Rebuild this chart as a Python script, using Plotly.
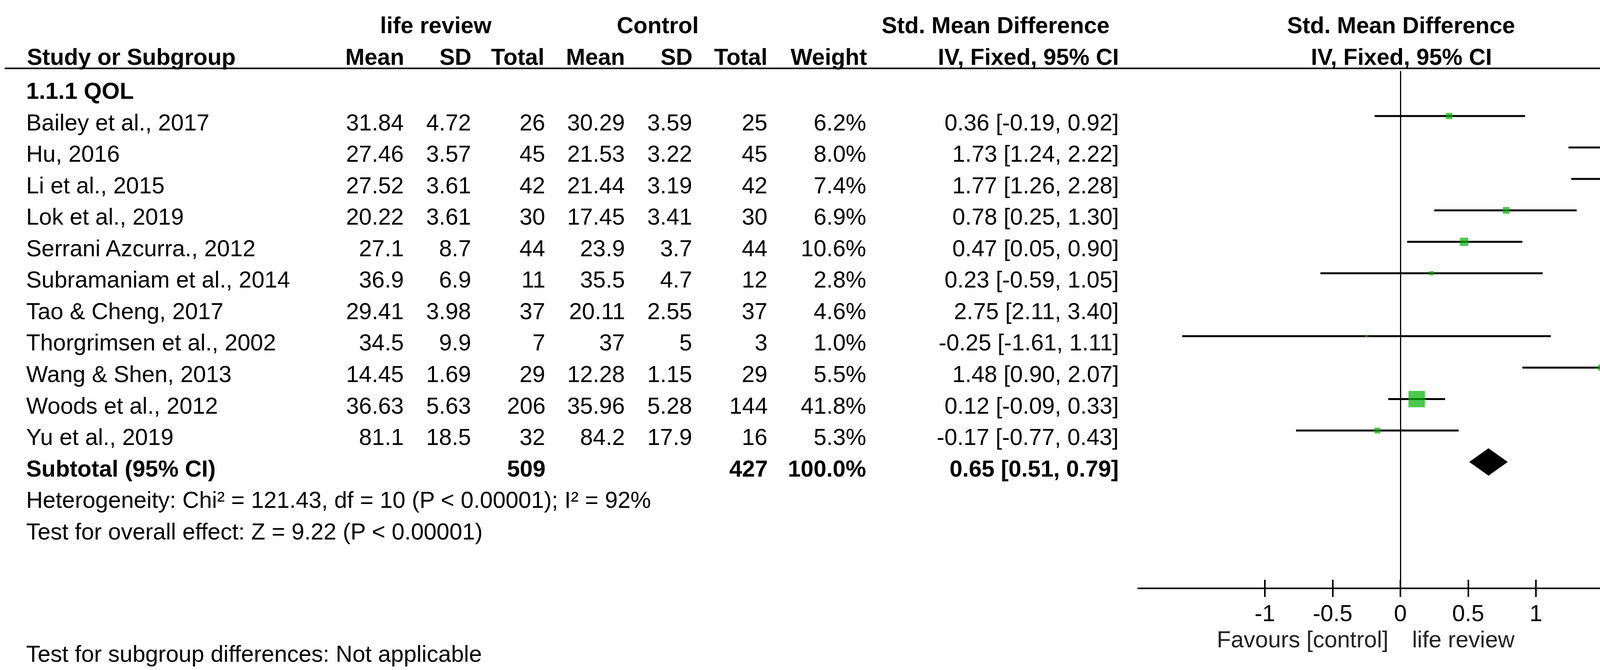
import plotly.graph_objects as go

W, H = 4319, 1715
FONT = "Liberation Sans, Arial, sans-serif"
FS = 59

# data
studies = ["Bailey et al., 2017", "Hu, 2016", "Li et al., 2015", "Lok et al., 2019",
           "Serrani Azcurra., 2012", "Subramaniam et al., 2014", "Tao & Cheng, 2017",
           "Thorgrimsen et al., 2002", "Wang & Shen, 2013", "Woods et al., 2012", "Yu et al., 2019"]
lr_mean = [31.84, 27.46, 27.52, 20.22, 27.1, 36.9, 29.41, 34.5, 14.45, 36.63, 81.1]
lr_sd = [4.72, 3.57, 3.61, 3.61, 8.7, 6.9, 3.98, 9.9, 1.69, 5.63, 18.5]
lr_total = [26, 45, 42, 30, 44, 11, 37, 7, 29, 206, 32]
c_mean = [30.29, 21.53, 21.44, 17.45, 23.9, 35.5, 20.11, 37, 12.28, 35.96, 84.2]
c_sd = [3.59, 3.22, 3.19, 3.41, 3.7, 4.7, 2.55, 5, 1.15, 5.28, 17.9]
c_total = [25, 45, 42, 30, 44, 12, 37, 3, 29, 144, 16]
weight = [6.2, 8.0, 7.4, 6.9, 10.6, 2.8, 4.6, 1.0, 5.5, 41.8, 5.3]
smd = [0.36, 1.73, 1.77, 0.78, 0.47, 0.23, 2.75, -0.25, 1.48, 0.12, -0.17]
ci_lo = [-0.19, 1.24, 1.26, 0.25, 0.05, -0.59, 2.11, -1.61, 0.90, -0.09, -0.77]
ci_hi = [0.92, 2.22, 2.28, 1.30, 0.90, 1.05, 3.40, 1.11, 2.07, 0.33, 0.43]

sub_lr_total, sub_c_total, sub_weight = 509, 427, 100.0
sub_smd, sub_lo, sub_hi = 0.65, 0.51, 0.79

subgroup_label = "1.1.1 QOL"
heterogeneity = "Heterogeneity: Chi² = 121.43, df = 10 (P < 0.00001); I² = 92%"
overall = "Test for overall effect: Z = 9.22 (P < 0.00001)"
subgroup_test = "Test for subgroup differences: Not applicable"
tick_vals = [-1, -0.5, 0, 0.5, 1]
tick_text = ["-1", "-0.5", "0", "0.5", "1"]

X_MAX = 1.94
PX_UNIT = 347
rows = list(range(1, len(studies) + 1))
sub_row = len(studies) + 1

fig = go.Figure()

# confidence intervals
lx, ly = [], []
for r, a, b in zip(rows, ci_lo, ci_hi):
    lx += [a, b, None]
    ly += [r, r, None]
fig.add_trace(go.Scatter(x=lx, y=ly, mode="lines", line=dict(color="black", width=5),
                         hoverinfo="skip"))

# study squares
fig.add_trace(go.Scatter(x=smd, y=rows, mode="markers",
                         marker=dict(symbol="square", color="#00B400",
                                     size=[6.5 * w ** 0.5 for w in weight], line_width=0),
                         hoverinfo="skip"))

# arrows for intervals running past the axis
ar = [r for r, b in zip(rows, ci_hi) if b > X_MAX]
fig.add_trace(go.Scatter(x=[X_MAX - 16 / PX_UNIT] * len(ar), y=ar, mode="markers",
                         marker=dict(symbol="triangle-right", color="black", size=32, line_width=0),
                         cliponaxis=False, hoverinfo="skip"))

# pooled diamond
fig.add_trace(go.Scatter(x=[sub_lo, sub_smd, sub_hi, sub_smd, sub_lo],
                         y=[sub_row, sub_row - 0.43, sub_row, sub_row + 0.43, sub_row],
                         mode="lines", fill="toself", fillcolor="black",
                         line=dict(color="black", width=1), hoverinfo="skip"))

# helper trace for the upper half of the crossing ticks
fig.add_trace(go.Scatter(x=[0], y=[sub_row], xaxis="x2", mode="markers",
                         marker=dict(opacity=0), hoverinfo="skip"))


def px(v):
    return v / W


def py(v):
    return 1 - v / H


ann = []


def txt(text, x, y, anchor="right", yref="y", bold=False, shift=-17):
    ann.append(dict(text="<b>%s</b>" % text if bold else text, x=px(x), xref="paper",
                    y=y, yref=yref, xanchor=anchor, yanchor="middle", yshift=shift,
                    showarrow=False, font=dict(family=FONT, size=FS, color="black")))


# headers
for t, x in [("life review", 1115), ("Control", 1684), ("Std. Mean Difference", 2549),
             ("Std. Mean Difference", 3587)]:
    txt(t, x, py(65), anchor="center", yref="paper", bold=True, shift=0)
txt("Study or Subgroup", 67, py(146), anchor="left", yref="paper", bold=True, shift=0)
for t, x in [("Mean", 1037), ("SD", 1209), ("Total", 1396), ("Mean", 1602), ("SD", 1775),
             ("Total", 1967), ("Weight", 2222), ("IV, Fixed, 95% CI", 2866)]:
    txt(t, x, py(146), yref="paper", bold=True, shift=0)
txt("IV, Fixed, 95% CI", 3587, py(146), anchor="center", yref="paper", bold=True, shift=0)

txt(subgroup_label, 65, 0, anchor="left", bold=True)

cols = [1036, 1208, 1398, 1602, 1774, 1967, 2219, 2866]
for i, r in enumerate(rows):
    txt(studies[i], 65, r, anchor="left")
    vals = [str(lr_mean[i]), str(lr_sd[i]), str(lr_total[i]), str(c_mean[i]), str(c_sd[i]),
            str(c_total[i]), "%.1f%%" % weight[i],
            "%.2f [%.2f, %.2f]" % (smd[i], ci_lo[i], ci_hi[i])]
    for v, x in zip(vals, cols):
        txt(v, x, r)

txt("Subtotal (95% CI)", 65, sub_row, anchor="left", bold=True)
txt(str(sub_lr_total), cols[2], sub_row, bold=True)
txt(str(sub_c_total), cols[5], sub_row, bold=True)
txt("%.1f%%" % sub_weight, cols[6], sub_row, bold=True)
txt("%.2f [%.2f, %.2f]" % (sub_smd, sub_lo, sub_hi), cols[7], sub_row, bold=True)

txt(heterogeneity, 65, sub_row + 1, anchor="left")
txt(overall, 65, sub_row + 2, anchor="left")
txt(subgroup_test, 65, py(1674), anchor="left", yref="paper", shift=0)

# favours labels
for t, anchor, sh in [("Favours [control]", "right", -29), ("life review", "left", 28)]:
    ann.append(dict(text=t, x=0, xref="x", xanchor=anchor, xshift=sh, y=py(1637), yref="paper",
                    yanchor="middle", showarrow=False,
                    font=dict(family=FONT, size=FS, color="#222222")))

fig.update_layout(
    width=W, height=H,
    margin=dict(l=0, r=0, t=0, b=0),
    paper_bgcolor="white", plot_bgcolor="white",
    showlegend=False,
    annotations=ann,
    shapes=[dict(type="line", xref="paper", yref="paper", x0=px(12), x1=px(4314),
                 y0=py(175), y1=py(175), line=dict(color="black", width=4))],
    xaxis=dict(domain=[px(3585 - X_MAX * PX_UNIT), px(3585 + X_MAX * PX_UNIT)],
               range=[-X_MAX, X_MAX], anchor="y",
               showline=True, linecolor="black", linewidth=4,
               ticks="outside", ticklen=20, tickwidth=4, tickcolor="black",
               tickvals=tick_vals, ticktext=tick_text, ticklabelstandoff=-9,
               tickfont=dict(family=FONT, size=FS, color="black"),
               zeroline=True, zerolinecolor="black", zerolinewidth=3, showgrid=False),
    xaxis2=dict(overlaying="x", matches="x", anchor="y", side="bottom",
                ticks="inside", ticklen=20, tickwidth=4, tickcolor="black",
                tickvals=tick_vals, showticklabels=False, showline=False,
                zeroline=False, showgrid=False),
    yaxis=dict(domain=[py(1504), py(182)],
               range=[(1504 - 216.5) / 80.5, (182 - 216.5) / 80.5],
               visible=False, showgrid=False, zeroline=False),
)

fig.write_html("out.html", config={"displayModeBar": False},
               post_script="document.body.style.margin='0';")
